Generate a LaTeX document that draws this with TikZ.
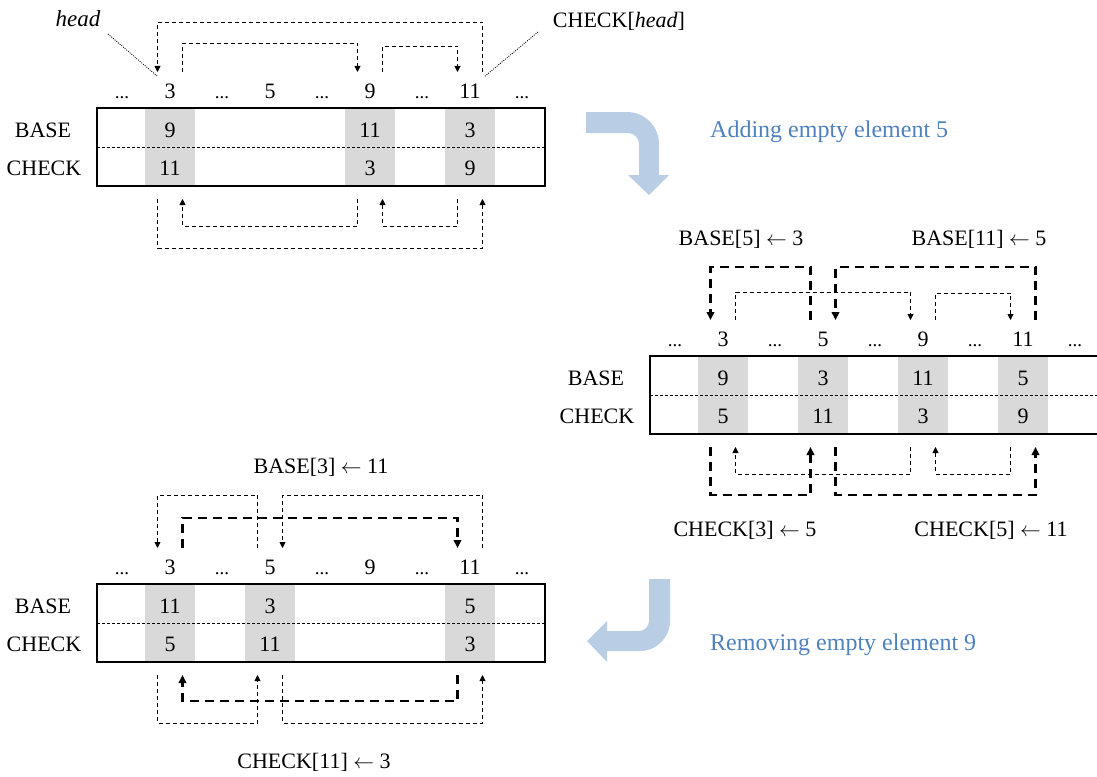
\documentclass[tikz,border=0pt]{standalone}
\usepackage{fontspec}
\setmainfont{Liberation Serif}
\usetikzlibrary{arrows.meta}
\definecolor{cellgray}{HTML}{D9D9D9}
\definecolor{bluearrow}{HTML}{B9CDE5}
\definecolor{bluetext}{HTML}{4F81BD}

\newcommand{\trieArr}[2]{%
  \foreach \c/\b/\k in {#2} {
    \fill[cellgray] (\c-25,108) rectangle (\c+25,186);
    \node[txt] (#1b\c) at (\c,137) {\b};
    \node[txt] (#1k\c) at (\c,175) {\k};
  }
  \draw[line width=1.3pt] (97,108) rectangle (545,186);
  \draw[line width=0.8pt, dash pattern=on 3pt off 2pt] (97,147) -- (545,147);
  \foreach \x in {122,222,322,422,522} \node[txt, font=\fontsize{19}{22}\selectfont] (#1d\x) at (\x,98) {...};
  \foreach \x/\n in {170/3,270/5,370/9,470/11} {
    \node[txt] (#1i\x) at (\x,98) {\n};
    \coordinate (#1tl\x) at (\x-12.5,72);
    \coordinate (#1tr\x) at (\x+12.5,72);
    \coordinate (#1bl\x) at (\x-12.5,199);
    \coordinate (#1br\x) at (\x+12.5,199);
  }
  \node[txt] (#1base) at (43,137) {BASE};
  \node[txt] (#1check) at (44,175) {CHECK};
}

\begin{document}
\begin{tikzpicture}[x=1pt,y=-1pt,
  txt/.style={font=\fontsize{22}{26}\selectfont, anchor=base, inner sep=0pt},
  bluetxt/.style={font=\fontsize{24}{28}\selectfont, anchor=base west, inner sep=0pt, text=bluetext},
  thinln/.style={line width=0.9pt, dash pattern=on 4pt off 3pt},
  thickln/.style={line width=2.6pt, dash pattern=on 9pt off 6pt},
  thinarr/.style={thinln, -{Triangle[length=6pt,width=6pt]}},
  thickarr/.style={thickln, -{Triangle[length=8pt,width=7.5pt]}},
  dotln/.style={line width=0.8pt, dash pattern=on 1pt off 1.2pt},
  bigarrow/.style={fill=bluearrow, draw=none}
]
\useasboundingbox (0,0) rectangle (1097,776);

% ---------- array A (initial) ----------
\begin{scope}
  \trieArr{A}{170/9/11, 370/11/3, 470/3/9}
\end{scope}
\draw[thinarr] (Atr170) -- ++(0,-29) -| (Atl370);
\draw[thinarr] (Atr370) -- ++(0,-26) -| (Atl470);
\draw[thinarr] (Atr470) -- ++(0,-50) -| (Atl170);
\draw[thinarr] (Abl170) -- ++(0,49) -| (Abr470);
\draw[thinarr] (Abl370) -- ++(0,27) -| (Abr170);
\draw[thinarr] (Abl470) -- ++(0,27) -| (Abr370);

\node[txt, font=\fontsize{23}{26}\selectfont\itshape] (head) at (78,27) {head};
\node[txt] (checkhead) at (619,28) {CHECK[\textit{head}]};
\coordinate (hd1) at (108,34);
\coordinate (hd2) at (157,76);
\coordinate (ch1) at (538,32);
\coordinate (ch2) at (484,77);
\draw[dotln] (hd1) -- (hd2);
\draw[dotln] (ch1) -- (ch2);

% ---------- array B (after adding 5) ----------
\begin{scope}[shift={(553,248)}]
  \trieArr{B}{170/9/5, 270/3/11, 370/11/3, 470/5/9}
\end{scope}
\draw[thinarr] (Btr170) -- ++(0,-28) -| (Btl370);
\draw[thinarr] (Btr370) -- ++(0,-27) -| (Btl470);
\draw[thickarr] (Btl270) -- ++(0,-53) -| (Btl170);
\draw[thickarr] (Btr470) -- ++(0,-53) -| (Btr270);
\draw[thinarr] (Bbl370) -- ++(0,27) -| (Bbr170);
\draw[thinarr] (Bbl470) -- ++(0,27) -| (Bbr370);
\draw[thickarr] (Bbl170) -- ++(0,48) -| (Bbl270);
\draw[thickarr] (Bbr270) -- ++(0,48) -| (Bbr470);

\node[txt] (lb5) at (741,245) {BASE[5] $\leftarrow$ 3};
\node[txt] (lb11) at (979,245) {BASE[11] $\leftarrow$ 5};
\node[txt] (lc3) at (745,536) {CHECK[3] $\leftarrow$ 5};
\node[txt] (lc5) at (991,536) {CHECK[5] $\leftarrow$ 11};

% ---------- array C (after removing 9) ----------
\begin{scope}[shift={(0,476)}]
  \trieArr{C}{170/11/5, 270/3/11, 470/5/3}
\end{scope}
\draw[thinarr] (Ctl270) -- ++(0,-53) -| (Ctl170);
\draw[thinarr] (Ctr470) -- ++(0,-53) -| (Ctr270);
\draw[thickarr] (Ctr170) -- ++(0,-30) -| (Ctl470);
\draw[thinarr] (Cbl170) -- ++(0,48) -| (Cbl270);
\draw[thinarr] (Cbr270) -- ++(0,48) -| (Cbr470);
\draw[thickarr] (Cbl470) -- ++(0,26) -| (Cbr170);

\node[txt] (lb3) at (321,473) {BASE[3] $\leftarrow$ 11};
\node[txt] (lc11) at (314,768) {CHECK[11] $\leftarrow$ 3};

% ---------- blue bent arrows ----------
\fill[bigarrow] (586,112) -- (627,112) .. controls (644.7,112) and (659,126.3) .. (659,144)
  -- (659,175) -- (669,175) -- (649,195) -- (628,175) -- (639,175) -- (639,144)
  .. controls (639,137.9) and (634.1,133) .. (628,133) -- (586,133) -- cycle;
\node[bluetxt] (add) at (710,137) {Adding empty element 5};

\fill[bigarrow] (649,579) -- (670,579) -- (670,621) .. controls (670,637.6) and (656.6,651) .. (640,651)
  -- (607,651) -- (607,662) -- (587,641) -- (607,621) -- (607,631) -- (639,631)
  .. controls (644.5,631) and (649,626.5) .. (649,621) -- cycle;
\node[bluetxt] (rem) at (710,650) {Removing empty element 9};
\end{tikzpicture}
\end{document}
